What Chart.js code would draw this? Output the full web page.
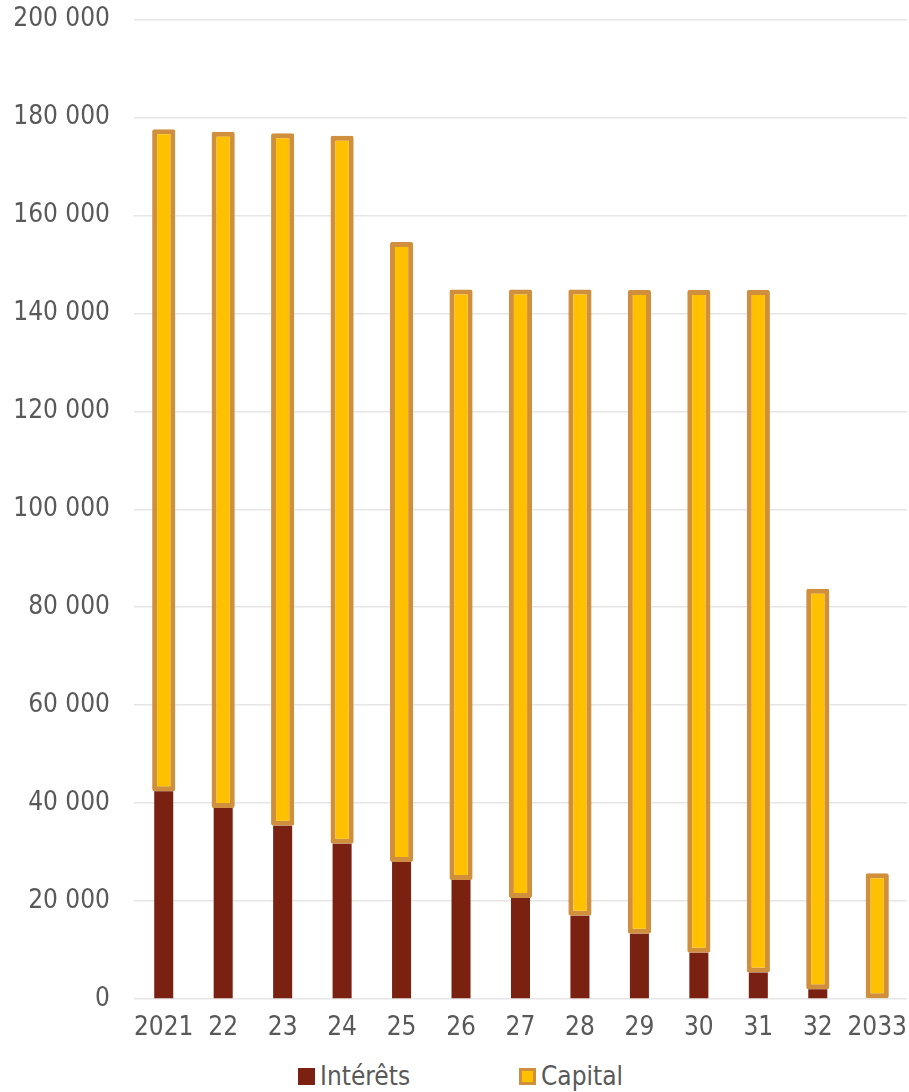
<!DOCTYPE html>
<html>
<head>
<meta charset="utf-8">
<script src="https://cdn.jsdelivr.net/npm/chart.js@4/dist/chart.umd.min.js"></script>
<style>
  html, body { margin: 0; padding: 0; background: #fff; overflow: hidden; }
  #wrap { position: relative; width: 909px; height: 1092px; overflow: hidden; }
  #c { position: absolute; left: 0; top: -20px; }
  #legend { position: absolute; left: 0; top: 1060px; width: 909px; height: 32px;
    font-family: "DejaVu Sans Condensed", "DejaVu Sans", sans-serif; font-size: 26px; color: #595959; }
  .item { position: absolute; top: 0; display: flex; align-items: center; height: 32px; }
  .box { width: 17px; height: 17px; box-sizing: border-box; margin-right: 5px; }
</style>
</head>
<body>
<div id="wrap">
  <canvas id="c" width="921" height="1078"></canvas>
  <div id="legend">
    <div class="item" style="left:298px"><span class="box" style="background:#7B2111"></span><span id="l1"></span></div>
    <div class="item" style="left:519px"><span class="box" style="background:#FFC000;border:3px solid #D08F3C"></span><span id="l2"></span></div>
  </div>
</div>
<script>
const categories = ["2021", "22", "23", "24", "25", "26", "27", "28", "29", "30", "31", "32", "2033"];
const seriesNames = ["Intérêts", "Capital"];
const interets = [42400, 39000, 35400, 31700, 28000, 24300, 20600, 17000, 13300, 9450, 5400, 2000, 0];
const capital = [135200, 138100, 141400, 144600, 126600, 120600, 124300, 127900, 131500, 135350, 139400, 81800, 25700];
const yTicks = [0, 20000, 40000, 60000, 80000, 100000, 120000, 140000, 160000, 180000, 200000];

document.getElementById('l1').textContent = seriesNames[0];
document.getElementById('l2').textContent = seriesNames[1];

const FONT = '"DejaVu Sans Condensed", "DejaVu Sans", sans-serif';
function fmt(v) { return String(v).replace(/\B(?=(\d{3})+(?!\d))/g, ' '); }

new Chart(document.getElementById('c'), {
  type: 'bar',
  data: {
    labels: categories,
    datasets: [
      { label: seriesNames[0], data: interets, backgroundColor: '#7B2111',
        borderWidth: 0, barPercentage: 0.32, categoryPercentage: 1 },
      { label: seriesNames[1], data: capital, backgroundColor: '#FFC000',
        borderColor: '#D08F3C', borderWidth: 5, borderSkipped: false, borderRadius: 2,
        barPercentage: 0.39, categoryPercentage: 1 }
    ]
  },
  options: {
    responsive: false,
    animation: false,
    layout: { padding: { top: 0, right: 0, bottom: 0, left: 0 } },
    plugins: { legend: { display: false }, tooltip: { enabled: false } },
    scales: {
      x: {
        stacked: true,
        grid: { display: false, drawTicks: false },
        border: { display: false },
        ticks: { color: '#595959', font: { family: FONT, size: 26 }, padding: 14, maxRotation: 0, autoSkip: false },
        afterFit: (s) => { s.height = 59; }
      },
      y: {
        stacked: true,
        min: 0, max: 200000,
        afterBuildTicks: (s) => { s.ticks = yTicks.map(v => ({ value: v })); },
        grid: { color: '#E6E6E6', lineWidth: 1.5, drawTicks: false },
        border: { display: false },
        ticks: { color: '#595959', font: { family: FONT, size: 26 }, padding: 24,
                 callback: (v) => fmt(v) },
        afterFit: (s) => { s.width = 134; }
      }
    }
  }
});
</script>
</body>
</html>
